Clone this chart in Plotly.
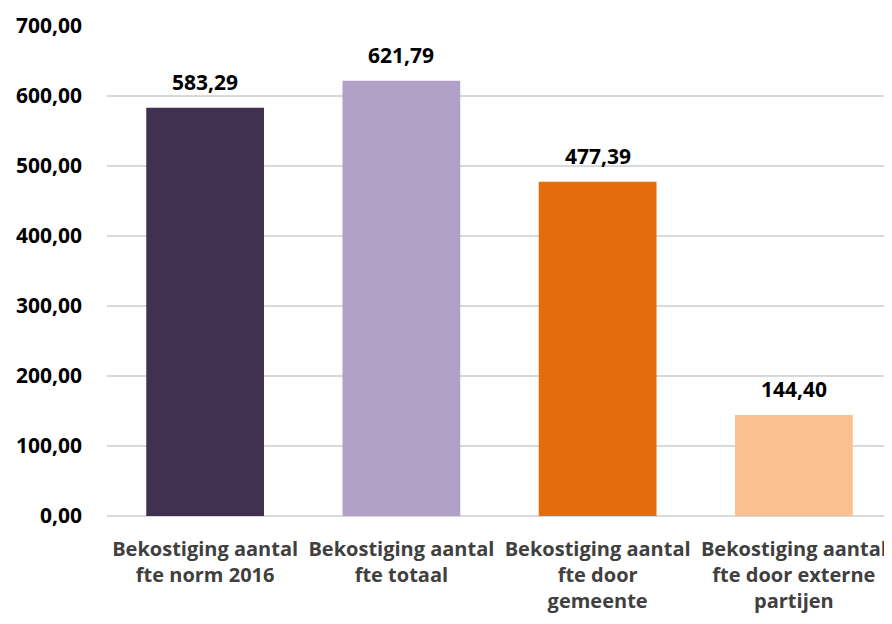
import plotly.graph_objects as go

categories = ["Bekostiging aantal<br>fte norm 2016", "Bekostiging aantal<br>fte totaal",
              "Bekostiging aantal<br>fte door<br>gemeente", "Bekostiging aantal<br>fte door externe<br>partijen"]
values = [583.29, 621.79, 477.39, 144.40]
colors = ["#403151", "#B1A0C7", "#E46C0A", "#FAC090"]
y_ticks = [0, 100, 200, 300, 400, 500, 600, 700]

fig = go.Figure(go.Bar(
    x=categories, y=values, marker=dict(color=colors, line=dict(width=0)),
))
for c, v in zip(categories, values):
    fig.add_annotation(x=c, y=v, text=f"{v:.2f}".replace(".", ","), showarrow=False,
                       yanchor="bottom", yshift=10,
                       font=dict(family="Open Sans", size=21, color="#000000", weight="bold"))
fig.update_layout(
    width=884, height=616, separators=",.",
    margin=dict(l=99, r=0, t=18, b=108),
    plot_bgcolor="white", paper_bgcolor="white",
    bargap=0.4, showlegend=False,
    font=dict(family="Open Sans", size=18, color="#000000"),
)
fig.update_yaxes(range=[0, 700], tickvals=y_ticks, tickformat=".2f",
                 showgrid=True, gridcolor="#D9D9D9", gridwidth=1.5,
                 zeroline=True, zerolinecolor="#D9D9D9", zerolinewidth=1.5,
                 tickfont=dict(family="Open Sans", size=21, color="#000000", weight="bold"),
                 ticklen=0, ticks="", ticklabelstandoff=24)
fig.update_xaxes(tickfont=dict(family="Open Sans", size=20, color="#404040", weight="bold"),
                 tickangle=0, showline=False, ticks="", ticklabelstandoff=19)
fig.write_html("out.html")
